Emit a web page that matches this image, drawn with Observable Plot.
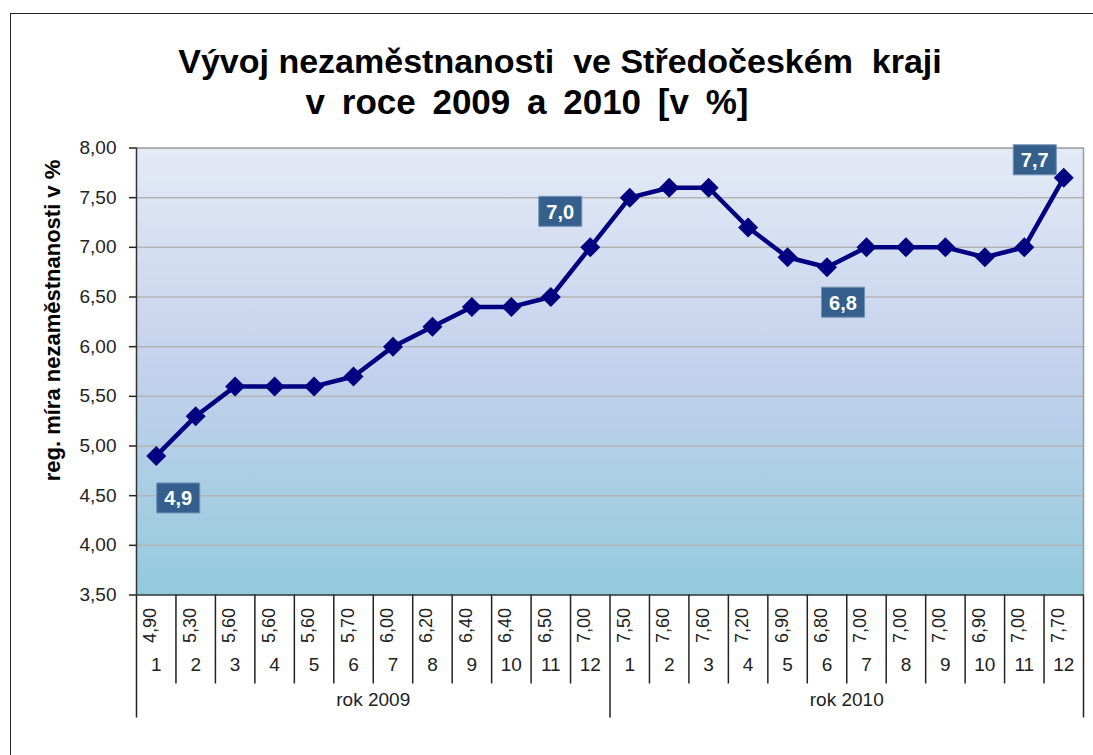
<!DOCTYPE html>
<html><head><meta charset="utf-8">
<script src="https://cdn.jsdelivr.net/npm/d3@7"></script>
<script src="https://cdn.jsdelivr.net/npm/@observablehq/plot@0.6"></script>
<style>
html,body{margin:0;padding:0;background:#fff;}
#wrap{position:relative;width:1093px;height:755px;overflow:hidden;font-family:"Liberation Sans",Arial,sans-serif;}
#border{position:absolute;left:10px;top:12.5px;width:2000px;height:2000px;border-left:1.5px solid #222;border-top:1.5px solid #222;}
.t{position:absolute;left:0;font-weight:bold;font-size:34px;line-height:34px;text-align:center;white-space:pre;color:#000;}
#t1{top:44px;width:1120px;}
#t2{top:84px;width:1054px;font-size:35px;line-height:35px;word-spacing:7px;}
#chart{position:absolute;left:0;top:0;}
</style></head>
<body><div id="wrap"><div id="border"></div><div class="t" id="t1"></div><div class="t" id="t2"></div><div id="chart"></div></div>
<script>
const titleLines = ["Vývoj nezaměstnanosti  ve Středočeském  kraji", "v roce 2009 a 2010 [v %]"];
const yLabel = "reg. míra nezaměstnanosti v %";
const years = ["rok 2009", "rok 2010"];
const months = [1,2,3,4,5,6,7,8,9,10,11,12,1,2,3,4,5,6,7,8,9,10,11,12];
const rates = [4.9,5.3,5.6,5.6,5.6,5.7,6.0,6.2,6.4,6.4,6.5,7.0,7.5,7.6,7.6,7.2,6.9,6.8,7.0,7.0,7.0,6.9,7.0,7.7];
const yTicks = [3.5,4.0,4.5,5.0,5.5,6.0,6.5,7.0,7.5,8.0];
const labelled = [0, 11, 17, 23];

document.getElementById("t1").textContent = titleLines[0];
document.getElementById("t2").textContent = titleLines[1];

const fmt2 = v => v.toFixed(2).replace(".", ",");
const fmt1 = v => v.toFixed(1).replace(".", ",");
const data = rates.map((v, i) => ({x: i + 0.5, v, m: months[i]}));
const yearData = years.map((t, i) => ({x: i * 12 + 6, t}));
const bounds = d3.range(25);

const labelOffsets = {0: [22, 42], 11: [-30, -36], 17: [16, 35], 23: [-29, -18]};
const boxSymbol = {draw(ctx) { ctx.rect(-21.5, -15, 43, 30); }};

const defs = () => {
  const ns = "http://www.w3.org/2000/svg";
  const d = document.createElementNS(ns, "defs");
  d.innerHTML = '<linearGradient id="bg" x1="0" y1="0" x2="0" y2="1">' +
    '<stop offset="0" stop-color="#e4eaf6"/><stop offset="0.5" stop-color="#c3d1ec"/>' +
    '<stop offset="1" stop-color="#92cbdc"/></linearGradient>';
  return d;
};

const labelMarks = labelled.flatMap(i => {
  const [dx, dy] = labelOffsets[i];
  return [
    Plot.dot([data[i]], {x: "x", y: "v", dx, dy, symbol: boxSymbol, fill: "#355f8c", stroke: "#7090b5", strokeWidth: 1}),
    Plot.text([data[i]], {x: "x", y: "v", dx, dy: dy + 1, text: d => fmt1(d.v), fill: "white", fontSize: 20, fontWeight: "bold"})
  ];
});

const chart = Plot.plot({
  width: 1093, height: 755,
  marginTop: 147.5, marginLeft: 136, marginRight: 10, marginBottom: 160.5,
  style: {fontFamily: '"Liberation Sans", Arial, sans-serif', background: "transparent", color: "#222", overflow: "visible"},
  x: {domain: [0, 24]},
  y: {domain: [3.5, 8]},
  marks: [
    defs,
    Plot.frame({fill: "url(#bg)", stroke: null}),
    Plot.ruleY(yTicks.filter(t => t > 3.5 && t < 8), {stroke: "#b4b4b4", strokeWidth: 1.5}),
    Plot.ruleY([8], {stroke: "#9a9a9a", strokeWidth: 1.5}),
    Plot.ruleX([24], {stroke: "#9a9a9a", strokeWidth: 1.5}),
    Plot.axisY({ticks: yTicks, tickFormat: fmt2, tickSize: 7, tickPadding: 13, fontSize: 19, label: null, strokeWidth: 1.5}),
    Plot.axisX({ticks: bounds.filter(b => b % 12 !== 0), tickSize: 89, tickFormat: () => "", label: null, strokeWidth: 1.5}),
    Plot.axisX({ticks: bounds.filter(b => b % 12 === 0), tickSize: 123, tickFormat: () => "", label: null, strokeWidth: 1.5}),
    Plot.ruleX([0], {stroke: "#333", strokeWidth: 1.5}),
    Plot.ruleY([3.5], {stroke: "#333", strokeWidth: 1.5}),
    Plot.text(data, {x: "x", text: d => fmt2(d.v), frameAnchor: "bottom", dy: 30.5, rotate: -90, fontSize: 18, fill: "#222"}),
    Plot.text(data, {x: "x", text: "m", frameAnchor: "bottom", dy: 75.5, fontSize: 19, fill: "#222"}),
    Plot.text(yearData, {x: "x", text: "t", frameAnchor: "bottom", dy: 110.5, fontSize: 19, fill: "#222"}),
    Plot.line(data, {x: "x", y: "v", stroke: "#000080", strokeWidth: 4.5}),
    Plot.dot(data, {x: "x", y: "v", symbol: "diamond2", r: 9, fill: "#000080"}),
    ...labelMarks,
    Plot.text([yLabel], {frameAnchor: "left", dx: -84, dy: -51, rotate: -90, textAnchor: "middle", text: d => d, fontWeight: "bold", fontSize: 22, fill: "#000"})
  ]
});
document.getElementById("chart").appendChild(chart);
</script>
</body></html>
